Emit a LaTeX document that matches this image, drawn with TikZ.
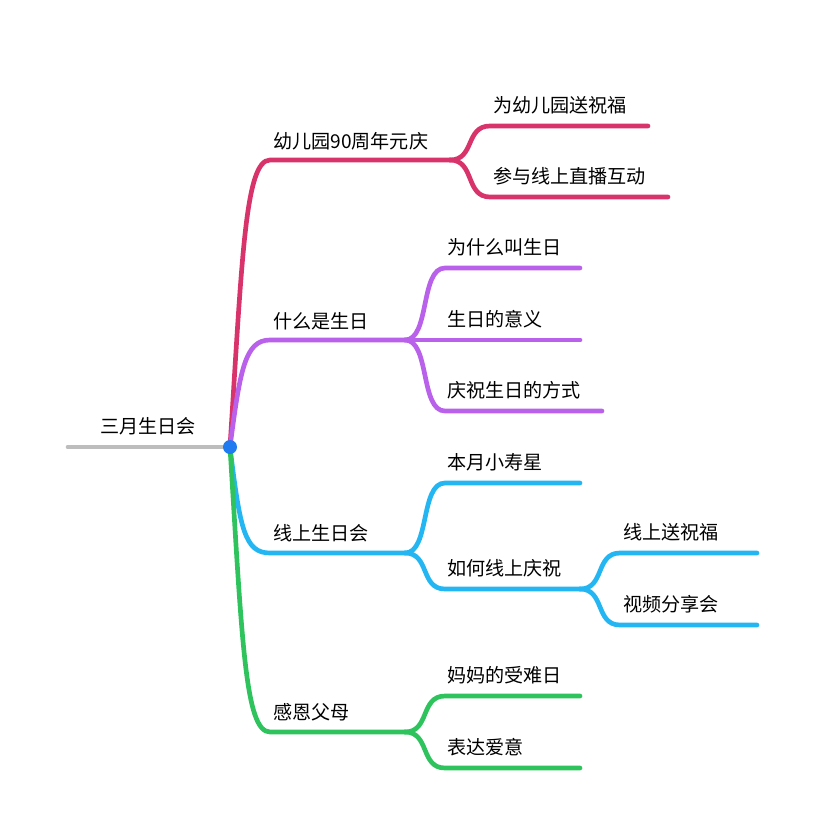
\documentclass[tikz,border=0pt]{standalone}
\usepackage{fontspec}
\setmainfont{Noto Sans CJK SC}
\tikzset{
	rama/.style={line width=4pt, line cap=round},
	texto/.style={anchor=base west, font=\fontsize{16.3pt}{19pt}\selectfont, inner sep=0pt},
	curva/.style={to path={.. controls +(25,0) and +(-25,0) .. (\tikztotarget)}}
}
\definecolor{rojo}{HTML}{D8336B}
\definecolor{morado}{HTML}{B961EA}
\definecolor{azul}{HTML}{24B6F2}
\definecolor{verde}{HTML}{2EC35C}
\definecolor{gris}{HTML}{BDBDBD}
\definecolor{punto}{HTML}{1F7BEF}

\begin{document}
\begin{tikzpicture}[x=0.03cm, y=-0.03cm]
	\useasboundingbox (0,0) rectangle (825,837);
	% raiz
	\coordinate (r0) at (68,447);
	\coordinate (c) at (230,447);
	\draw[rama, gris] (r0) -- (c);
	\node[texto] (root) at (100,433) {三月生日会};
	
	% ramas principales
	\coordinate (a0) at (270,160); \coordinate (a1) at (450,160);
	\coordinate (b0) at (270,340); \coordinate (b1) at (405,340);
	\coordinate (d0) at (270,553); \coordinate (d1) at (405,553);
	\coordinate (e0) at (270,732); \coordinate (e1) at (405,732);
	\draw[rama, rojo] (c) .. controls (242,260) and (245,160) .. (a0) -- (a1);
	\draw[rama, morado] (c) .. controls (240,370) and (245,340) .. (b0) -- (b1);
	\draw[rama, azul] (c) .. controls (240,530) and (245,553) .. (d0) -- (d1);
	\draw[rama, verde] (c) .. controls (242,640) and (245,732) .. (e0) -- (e1);
	\node[texto] (ta) at (273,148) {幼儿园90周年元庆};
	\node[texto] (tb) at (273,328) {什么是生日};
	\node[texto] (td) at (273,540) {线上生日会};
	\node[texto] (te) at (273,719) {感恩父母};
	
	% hojas rojas
	\coordinate (a2) at (490,126); \coordinate (a3) at (490,197);
	\draw[rama, rojo] (a1) to[curva] (a2) -- (648,126);
	\draw[rama, rojo] (a1) to[curva] (a3) -- (668,197);
	\node[texto] (ta1) at (493,112) {为幼儿园送祝福};
	\node[texto] (ta2) at (493,183) {参与线上直播互动};
	
	% hojas moradas
	\coordinate (b2) at (445,268); \coordinate (b3) at (445,340); \coordinate (b4) at (445,411);
	\draw[rama, morado] (b1) to[curva] (b2) -- (580,268);
	\draw[rama, morado] (b1) -- (b3) -- (580,340);
	\draw[rama, morado] (b1) to[curva] (b4) -- (602,411);
	\node[texto] (tb1) at (447,254) {为什么叫生日};
	\node[texto] (tb2) at (447,326) {生日的意义};
	\node[texto] (tb3) at (447,397) {庆祝生日的方式};
	
	% hojas azules
	\coordinate (d2) at (445,483); \coordinate (d3) at (445,589);
	\coordinate (d4) at (580,589);
	\draw[rama, azul] (d1) to[curva] (d2) -- (580,483);
	\draw[rama, azul] (d1) to[curva] (d3) -- (d4);
	\node[texto] (td1) at (447,469) {本月小寿星};
	\node[texto] (td2) at (447,575) {如何线上庆祝};
	\coordinate (d5) at (620,553); \coordinate (d6) at (620,625);
	\draw[rama, azul] (d4) to[curva] (d5) -- (757,553);
	\draw[rama, azul] (d4) to[curva] (d6) -- (757,625);
	\node[texto] (td3) at (623,539) {线上送祝福};
	\node[texto] (td4) at (623,611) {视频分享会};
	
	% hojas verdes
	\coordinate (e2) at (445,696); \coordinate (e3) at (445,768);
	\draw[rama, verde] (e1) to[curva] (e2) -- (580,696);
	\draw[rama, verde] (e1) to[curva] (e3) -- (580,768);
	\node[texto] (te1) at (447,682) {妈妈的受难日};
	\node[texto] (te2) at (447,754) {表达爱意};
	
	\fill[punto] (c) circle (7);
\end{tikzpicture}
\end{document}
